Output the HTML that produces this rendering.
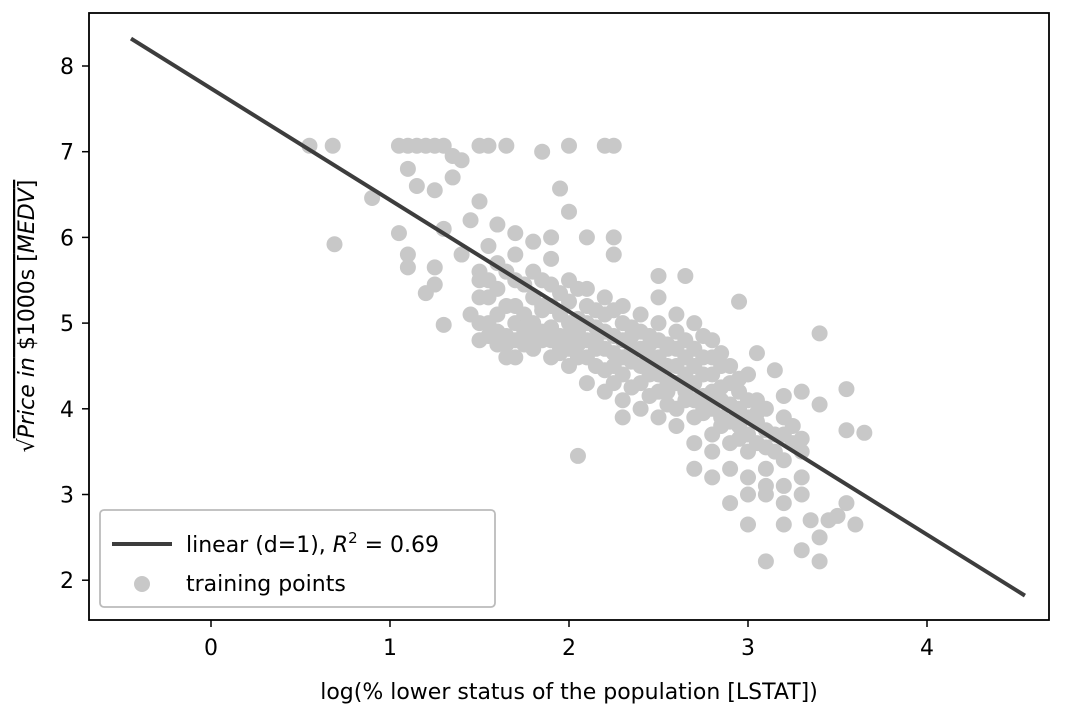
<!DOCTYPE html>
<html><head><meta charset="utf-8"><style>
body{margin:0;background:#fff;}
svg text{font-family:"DejaVu Sans","Liberation Sans",sans-serif;fill:#000;}
</style></head><body>
<svg id="chart" width="1075" height="713" xmlns="http://www.w3.org/2000/svg">
<g id="pts"></g>
<g id="fit"></g>
<rect x="89" y="13" width="960" height="607" fill="none" stroke="#000" stroke-width="1.8"/>
<g id="xt"></g>
<g id="yt"></g>
<text x="569" y="699" font-size="22" text-anchor="middle">log(% lower status of the population [LSTAT])</text>
<g transform="translate(34,316) rotate(-90)">
<text x="0" y="0" font-size="22" text-anchor="middle">√<tspan text-decoration="overline"><tspan font-style="italic">Price in</tspan> $1000s [<tspan font-style="italic">MEDV</tspan>]</tspan></text>
</g>
<g>
<rect x="100" y="510" width="395" height="97" rx="4" fill="#fff" fill-opacity="0.85" stroke="#bbb" stroke-width="1.8"/>
<line x1="112" y1="544" x2="172" y2="544" stroke="#3d3d3d" stroke-width="4"/>
<text x="186" y="552" font-size="22">linear (d=1), <tspan font-style="italic">R</tspan><tspan font-size="15" dy="-9">2</tspan><tspan dy="9"> = 0.69</tspan></text>
<circle cx="142" cy="584" r="8" fill="#c8c8c8"/>
<text x="186" y="591" font-size="22">training points</text>
</g>
</svg>
<script>
const xTicks=[0,1,2,3,4];
const yTicks=[2,3,4,5,6,7,8];
const lineX=[-0.447,4.547];
const lineY=[8.32,1.82];
const ptX=[0.55,0.68,0.69,0.9,1.05,1.1,1.15,1.2,1.25,1.3,1.5,1.55,1.65,2.0,2.2,2.25,1.35,1.85,1.1,1.15,1.25,1.35,1.4,1.05,1.1,1.1,1.25,1.3,1.2,1.25,1.3,1.5,1.95,2.0,1.45,1.6,1.7,1.8,1.9,2.1,2.25,2.25,1.4,1.5,1.55,
3.1,3.4,3.3,3.2,3.0,3.55,3.6,3.65,3.55,3.55,3.4,3.4,3.3,3.2,3.15,3.05,2.95,2.65,2.5,2.05,2.3,2.7,2.8,2.9,3.0,3.1,3.2,3.3,3.35,3.4,3.45,3.5,
1.5,1.5,1.5,1.5,1.6,1.6,1.6,1.6,1.6,1.7,1.7,1.7,1.7,1.7,1.7,1.8,1.8,1.8,1.8,1.8,1.9,1.9,1.9,1.9,1.9,1.9,2.0,2.0,2.0,2.0,2.0,2.0,2.1,2.1,2.1,2.1,2.1,2.1,2.2,2.2,2.2,2.2,2.2,2.2,2.3,2.3,2.3,2.3,2.3,2.3,2.4,2.4,2.4,2.4,2.4,2.4,2.5,2.5,2.5,2.5,2.5,2.5,2.5,2.6,2.6,2.6,2.6,2.6,2.6,2.6,2.7,2.7,2.7,2.7,2.7,2.7,2.7,2.8,2.8,2.8,2.8,2.8,2.8,2.8,2.9,2.9,2.9,2.9,2.9,2.9,3.0,3.0,3.0,3.0,3.0,3.0,3.1,3.1,3.1,3.1,3.1,3.2,3.2,3.2,3.2,3.3,3.3,3.3,
1.55,1.65,1.75,1.85,1.95,2.05,2.15,2.25,2.35,2.45,2.55,2.65,2.75,2.85,2.95,3.05,3.15,2.45,2.55,2.65,2.75,2.85,2.35,
1.55,1.65,1.75,1.85,1.95,2.05,2.15,2.25,2.35,2.45,2.55,2.65,2.75,2.85,2.95,3.05,3.15,3.25,
1.55,1.65,1.75,1.85,1.95,2.05,2.15,2.25,2.35,2.45,2.55,2.65,2.75,2.85,2.95,3.05,3.25,
1.45,1.55,1.65,1.75,1.85,1.95,2.05,2.15,2.25,2.35,2.45,2.55,2.65,2.75,2.85,2.95,3.05,
1.65,1.75,1.85,1.95,2.05,2.15,2.25,2.35,2.45,2.55,2.65,2.75,2.85,2.95];
const ptY=[7.07,7.07,5.92,6.46,7.07,7.07,7.07,7.07,7.07,7.07,7.07,7.07,7.07,7.07,7.07,7.07,6.95,7.0,6.8,6.6,6.55,6.7,6.9,6.05,5.8,5.65,5.65,4.98,5.35,5.45,6.1,6.42,6.57,6.3,6.2,6.15,6.05,5.95,6.0,6.0,6.0,5.8,5.8,5.6,5.9,
2.22,2.22,2.35,2.65,2.65,2.9,2.65,3.72,3.75,4.23,4.88,4.05,4.2,4.15,4.45,4.65,5.25,5.55,5.55,3.45,3.9,3.3,3.2,2.9,3.0,3.1,2.9,3.0,2.7,2.5,2.7,2.75,
4.8,5.0,5.3,5.5,4.75,4.9,5.1,5.4,5.7,4.6,4.8,5.0,5.2,5.5,5.8,4.7,4.85,5.0,5.3,5.6,4.6,4.8,4.95,5.2,5.45,5.75,4.5,4.7,4.85,5.0,5.25,5.5,4.3,4.6,4.8,5.0,5.2,5.4,4.2,4.45,4.7,4.9,5.1,5.3,4.1,4.4,4.6,4.8,5.0,5.2,4.0,4.3,4.5,4.7,4.9,5.1,3.9,4.2,4.4,4.6,4.8,5.0,5.3,3.8,4.0,4.3,4.5,4.7,4.9,5.1,3.6,3.9,4.1,4.3,4.5,4.7,5.0,3.5,3.7,4.0,4.2,4.4,4.6,4.8,3.3,3.6,3.85,4.05,4.3,4.5,3.2,3.5,3.7,3.9,4.1,4.4,3.0,3.3,3.55,3.75,4.0,3.1,3.4,3.7,3.9,3.2,3.5,3.65,
5.0,4.85,5.1,4.8,5.1,4.9,4.7,4.5,4.7,4.4,4.5,4.2,4.0,3.9,3.8,3.6,3.5,4.85,4.05,4.6,4.4,4.1,4.25,
4.85,4.75,4.75,4.9,4.85,4.75,4.8,4.65,4.55,4.6,4.3,4.35,4.15,4.25,4.0,3.85,3.7,3.6,
5.3,5.2,4.95,5.2,4.65,5.05,4.95,4.85,4.85,4.75,4.7,4.8,4.6,4.5,4.2,4.1,3.8,
5.1,5.5,5.6,5.45,5.5,5.35,5.4,5.15,5.15,4.95,4.55,4.75,4.4,4.85,4.65,4.35,3.95,
4.6,4.9,5.15,4.7,4.6,4.5,4.3,4.25,4.15,4.2,4.1,3.95,3.8,3.65];
const NS="http://www.w3.org/2000/svg";
function sx(v){return 211+v*179;}
function sy(v){return 66+(8-v)*85.7;}
const pts=document.getElementById('pts');
for(let i=0;i<ptX.length;i++){
 const c=document.createElementNS(NS,'circle');
 c.setAttribute('cx',sx(ptX[i]));c.setAttribute('cy',sy(ptY[i]));c.setAttribute('r',8);c.setAttribute('fill','#c8c8c8');
 
 
 pts.appendChild(c);
}
const fit=document.getElementById('fit');
const l=document.createElementNS(NS,'line');
l.setAttribute('x1',sx(lineX[0]));l.setAttribute('y1',sy(lineY[0]));l.setAttribute('x2',sx(lineX[1]));l.setAttribute('y2',sy(lineY[1]));
l.setAttribute('stroke','#3d3d3d');l.setAttribute('stroke-width','4');


fit.appendChild(l);
const xt=document.getElementById('xt');
xTicks.forEach(v=>{
 const t=document.createElementNS(NS,'line');
 t.setAttribute('x1',sx(v));t.setAttribute('x2',sx(v));t.setAttribute('y1',620);t.setAttribute('y2',627);t.setAttribute('stroke','#000');t.setAttribute('stroke-width','1.5');
 
 
 xt.appendChild(t);
 const s=document.createElementNS(NS,'text');
 s.setAttribute('x',sx(v));s.setAttribute('y',655);s.setAttribute('font-size','22');s.setAttribute('text-anchor','middle');s.textContent=v;
 
 
 xt.appendChild(s);
});
const yt=document.getElementById('yt');
yTicks.forEach(v=>{
 const t=document.createElementNS(NS,'line');
 t.setAttribute('x1',82);t.setAttribute('x2',89);t.setAttribute('y1',sy(v));t.setAttribute('y2',sy(v));t.setAttribute('stroke','#000');t.setAttribute('stroke-width','1.5');
 
 
 yt.appendChild(t);
 const s=document.createElementNS(NS,'text');
 s.setAttribute('x',74);s.setAttribute('y',sy(v)+8);s.setAttribute('font-size','22');s.setAttribute('text-anchor','end');s.textContent=v;
 
 
 yt.appendChild(s);
});
</script>
</body></html>
